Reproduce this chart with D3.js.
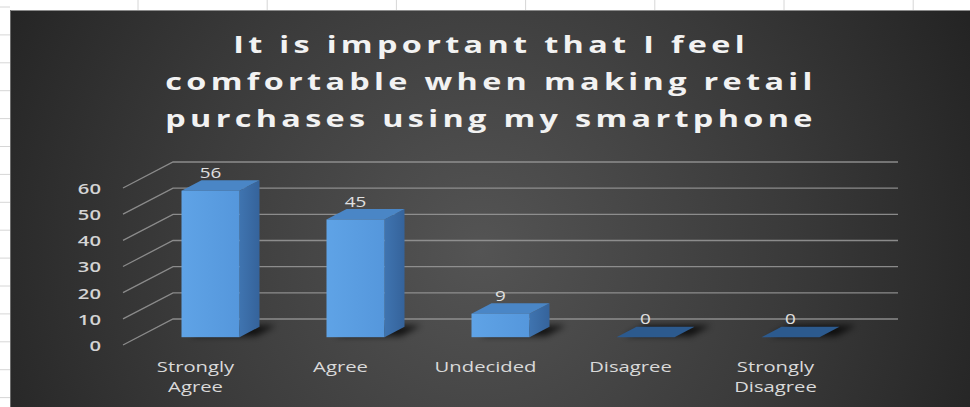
<!DOCTYPE html>
<html>
<head>
<meta charset="utf-8">
<script src="https://cdn.jsdelivr.net/npm/d3@7/dist/d3.min.js"></script>
<style>
  html, body { margin: 0; padding: 0; background: #ffffff; }
  svg { display: block; }
</style>
</head>
<body>
<svg id="chart" width="970" height="407"></svg>
<script>
// Survey answers and counts
const categories = ["Strongly Agree", "Agree", "Undecided", "Disagree", "Strongly Disagree"];
const responses = [56, 45, 9, 0, 0];
const yTicks = [0, 10, 20, 30, 40, 50, 60];
const titleLines = [
  "It is important that I feel",
  "comfortable when making retail",
  "purchases using my smartphone"
];

const W = 970, H = 407;
const svg = d3.select("#chart");
const defs = svg.append("defs");

// Horizontal stretch applied to all text
const SX = 1.35;
const FONT = "'Open Sans', 'Noto Sans', sans-serif";

// ---- spreadsheet margin (cell grid around the chart object) ----
svg.append("rect").attr("width", W).attr("height", H).attr("fill", "#ffffff");
const colLines = d3.range(138, W, 129.2);
svg.selectAll("line.col").data(colLines).join("line")
  .attr("x1", d => d).attr("x2", d => d).attr("y1", 0).attr("y2", 10)
  .attr("stroke", "#d6d6d6").attr("stroke-width", 1);
const rowLines = d3.range(7, H, 27.9);
svg.selectAll("line.row").data(rowLines).join("line")
  .attr("x1", 0).attr("x2", 10).attr("y1", d => d).attr("y2", d => d)
  .attr("stroke", "#d6d6d6").attr("stroke-width", 1);

// ---- chart background ----
const bg = defs.append("radialGradient").attr("id", "bgGrad")
  .attr("gradientUnits", "userSpaceOnUse")
  .attr("cx", 480).attr("cy", 250).attr("r", 560);
bg.append("stop").attr("offset", "0").attr("stop-color", "#545454");
bg.append("stop").attr("offset", "0.55").attr("stop-color", "#3a3a3a");
bg.append("stop").attr("offset", "1").attr("stop-color", "#222222");
svg.append("rect").attr("x", 10).attr("y", 10).attr("width", W - 10).attr("height", H - 10)
  .attr("fill", "url(#bgGrad)");
svg.append("line").attr("x1", 10).attr("x2", W).attr("y1", 10.5).attr("y2", 10.5)
  .attr("stroke", "#8a8a8a").attr("stroke-width", 1);
svg.append("line").attr("x1", 10.5).attr("x2", 10.5).attr("y1", 10).attr("y2", H)
  .attr("stroke", "#6a6a6a").attr("stroke-width", 1);

// ---- 3D frame: oblique projection ----
const floorX0 = 123, floorX1 = 848;      // front edge of the floor
const depthDX = 50, depthDY = 26;        // offset from front to back wall
const x = d3.scaleBand().domain(categories).range([floorX0, floorX1])
  .paddingInner(0.6).paddingOuter(0.3);
const y = d3.scaleLinear().domain([0, 60]).range([345, 188]);
const P = (px, v, d) => [px + depthDX * d, y(v) - depthDY * d];

// gridlines: side wall + back wall
const grid = svg.append("g").attr("stroke", "#9a9a9a").attr("stroke-width", 1.3)
  .attr("fill", "none").attr("opacity", 0.85);
yTicks.forEach(t => {
  const a = P(floorX0, t, 0), b = P(floorX0, t, 1), c = P(floorX1, t, 1);
  grid.append("path").attr("d", d3.line()([a, b, c]));
});

// y tick labels
svg.append("g").selectAll("text").data(yTicks).join("text")
  .attr("transform", d => `translate(101,${y(d)}) scale(${SX},1)`)
  .attr("text-anchor", "end").attr("dominant-baseline", "central")
  .attr("font-family", FONT).attr("font-size", 15).attr("font-weight", 600)
  .attr("fill", "#d4d4d4").text(d => d);

// ---- bars ----
const barFront = 0.3, barDepth = 0.4;
const frontG = defs.append("linearGradient").attr("id", "frontGrad")
  .attr("x1", "0").attr("x2", "1").attr("y1", "0").attr("y2", "0");
frontG.append("stop").attr("offset", "0").attr("stop-color", "#5fa3e6");
frontG.append("stop").attr("offset", "1").attr("stop-color", "#5597dc");
const sideG = defs.append("linearGradient").attr("id", "sideGrad")
  .attr("x1", "0").attr("x2", "1").attr("y1", "0").attr("y2", "0");
sideG.append("stop").attr("offset", "0").attr("stop-color", "#3f74b0");
sideG.append("stop").attr("offset", "1").attr("stop-color", "#35639b");
const blur = defs.append("filter").attr("id", "shadowBlur")
  .attr("x", "-50%").attr("y", "-200%").attr("width", "200%").attr("height", "500%");
blur.append("feGaussianBlur").attr("stdDeviation", 3);

const bars = svg.append("g");
categories.forEach((cat, i) => {
  const v = responses[i];
  const bx = x(cat), bw = x.bandwidth();
  const d0 = barFront, d1 = barFront + barDepth;
  // soft shadow on the floor
  const sh = [P(bx + 6, 0, d0 + 0.05), P(bx + bw + 14, 0, d0 + 0.05),
              P(bx + bw + 14, 0, d1 + 0.05), P(bx + 6, 0, d1 + 0.05)];
  bars.append("path").attr("d", d3.line()(sh) + "Z")
    .attr("fill", "#000").attr("opacity", 0.75).attr("filter", "url(#shadowBlur)");
  // side face
  const side = [P(bx + bw, 0, d0), P(bx + bw, 0, d1), P(bx + bw, v, d1), P(bx + bw, v, d0)];
  bars.append("path").attr("d", d3.line()(side) + "Z").attr("fill", "url(#sideGrad)");
  // top face
  const top = [P(bx, v, d0), P(bx, v, d1), P(bx + bw, v, d1), P(bx + bw, v, d0)];
  bars.append("path").attr("d", d3.line()(top) + "Z")
    .attr("fill", v > 0 ? "#4a86c6" : "#2c5a8e");
  // front face
  const f0 = P(bx, v, d0), f1 = P(bx + bw, 0, d0);
  bars.append("rect").attr("x", f0[0]).attr("y", f0[1])
    .attr("width", f1[0] - f0[0]).attr("height", f1[1] - f0[1])
    .attr("fill", "url(#frontGrad)");
  // value label above the bar
  const lp = P(bx + bw / 2, v, d1);
  bars.append("text")
    .attr("transform", `translate(${P(bx + bw / 2, v, d0)[0]},${lp[1] - 8}) scale(${SX},1)`)
    .attr("text-anchor", "middle").attr("dominant-baseline", "central")
    .attr("font-family", FONT).attr("font-size", 14)
    .attr("fill", "#e0e0e0").text(v);
});

// ---- category labels ----
const catG = svg.append("g");
categories.forEach(cat => {
  const cx = x(cat) + x.bandwidth() / 2;
  cat.split(" ").forEach((word, j) => {
    catG.append("text")
      .attr("transform", `translate(${cx},${366 + j * 20}) scale(${SX},1)`)
      .attr("text-anchor", "middle").attr("dominant-baseline", "central")
      .attr("font-family", FONT).attr("font-size", 15)
      .attr("fill", "#d9d9d9").text(word);
  });
});

// ---- title ----
svg.append("g").selectAll("text").data(titleLines).join("text")
  .attr("transform", (d, i) => `translate(491,${53 + i * 37}) scale(${SX},1)`)
  .attr("text-anchor", "middle")
  .attr("font-family", FONT).attr("font-size", 24).attr("font-weight", 700)
  .attr("letter-spacing", 3.2)
  .attr("fill", "#f2f2f2").text(d => d);
</script>
</body>
</html>
